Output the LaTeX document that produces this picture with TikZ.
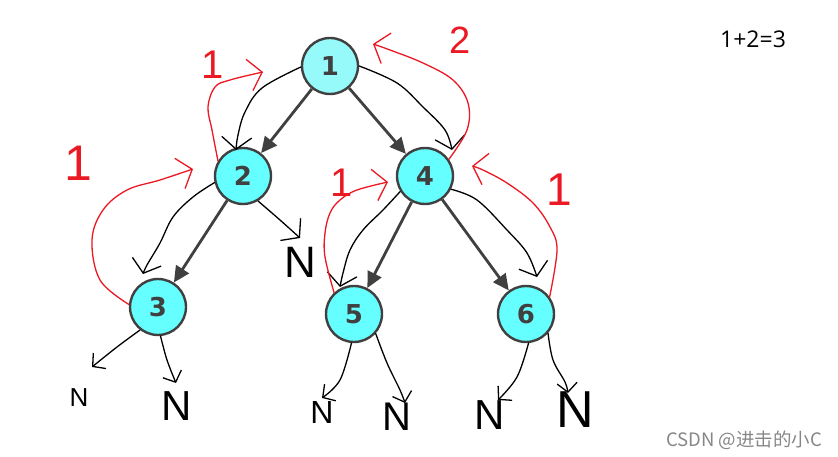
\documentclass[tikz,border=0pt]{standalone}
\usepackage{fontspec}
\setmainfont{Open Sans}
\newfontfamily\handfont{Liberation Sans}
\newfontfamily\keyfont{DejaVu Sans}
\newfontfamily\cjkfont{Noto Sans CJK SC}
\usetikzlibrary{arrows.meta}
\definecolor{nodefill}{RGB}{102,255,255}
\definecolor{rootfill}{RGB}{150,250,250}
\definecolor{edgegray}{RGB}{64,64,64}
\definecolor{penred}{RGB}{235,25,35}
\definecolor{markgray}{RGB}{135,135,135}

\tikzset{
  treenode/.style={circle, draw=edgegray, line width=2.4pt, fill=nodefill,
    minimum size=56pt, inner sep=0pt, text=edgegray,
    font=\keyfont\fontsize{26}{26}\selectfont\bfseries},
  treeedge/.style={draw=edgegray, line width=2.8pt,
    -{Triangle[length=16pt,width=15pt]}},
  trace/.style={black, line width=1.3pt, line cap=round, line join=round,
    -{Straight Barb[length=12pt,width=30pt]}},
  leaftrace/.style={trace, -{Straight Barb[length=9pt,width=20pt]}},
  backtrace/.style={penred, line width=1.3pt, line cap=round, line join=round,
    -{Straight Barb[length=13pt,width=32pt]}},
  handtext/.style={inner sep=0pt, font=\handfont\fontsize{#1}{#1}\selectfont},
  redlabel/.style={handtext=#1, text=penred},
}

\begin{document}
\begin{tikzpicture}[x=1pt, y=-1pt]
  \fill[white] (0,0) rectangle (838,457);
  \useasboundingbox (0,0) rectangle (838,457);

  % tree
  \node[treenode, fill=rootfill] (n1) at (330,66) {1};
  \node[treenode] (n2) at (243,176) {2};
  \node[treenode] (n4) at (425,176) {4};
  \node[treenode] (n3) at (158,307) {3};
  \node[treenode] (n5) at (354,314) {5};
  \node[treenode] (n6) at (526,314) {6};

  \draw[treeedge] (n1) -- (n2);
  \draw[treeedge] (n1) -- (n4);
  \draw[treeedge] (n2) -- (n3);
  \draw[treeedge] (n4) -- (n5);
  \draw[treeedge] (n4) -- (n6);

  % empty children
  \node[handtext=44] (null2) at (300,262) {N};
  \node[handtext=26] (null3l) at (79,398) {N};
  \node[handtext=42] (null3r) at (177,406) {N};
  \node[handtext=32] (null5l) at (322,412) {N};
  \node[handtext=40] (null5r) at (397,417) {N};
  \node[handtext=42] (null6l) at (490,415) {N};
  \node[handtext=52] (null6r) at (575,410) {N};

  % going down
  \draw[trace] plot[smooth, tension=0.6] coordinates
    {(n1.182) (262,88) (245,112) (238,135) (236,150)};
  \draw[trace] plot[smooth, tension=0.6] coordinates
    {(n1.0) (397,83) (423,107) (445,130) (452,150)};
  \draw[trace] plot[smooth, tension=0.6] coordinates
    {(n2.193) (193,197) (173,217) (160,243) (147,265) (143,274)};
  \draw[trace] plot[smooth, tension=0.6] coordinates
    {(n2.301) (280,220) (300,238)};
  \draw[trace] plot[smooth, tension=0.6] coordinates
    {(n4.212) (383,210) (363,230) (350,250) (343,273) (340,287)};
  \draw[trace] plot[smooth, tension=0.6] coordinates
    {(n4.333) (477,200) (507,230) (527,253) (537,277)};
  \draw[leaftrace] plot[smooth, tension=0.6] coordinates
    {(n3.232) (117,347) (92,367)};
  \draw[leaftrace] plot[smooth, tension=0.6] coordinates
    {(n3.275) (167,360) (176,383)};
  \draw[leaftrace] plot[smooth, tension=0.6] coordinates
    {(n5.265) (340,380) (322,398)};
  \draw[leaftrace] plot[smooth, tension=0.6] coordinates
    {(n5.318) (387,363) (400,390) (405,403)};
  \draw[leaftrace] plot[smooth, tension=0.6] coordinates
    {(n6.275) (517,377) (498,400)};
  \draw[leaftrace] plot[smooth, tension=0.6] coordinates
    {(n6.319) (553,360) (565,382) (568,393)};

  % coming back up
  \draw[backtrace] plot[smooth, tension=0.6] coordinates
    {(n3.175) (100,280) (92,240) (103,210) (127,190) (160,180) (193,169)};
  \draw[backtrace] plot[smooth, tension=0.6] coordinates
    {(n2.149) (212,130) (208,107) (215,87) (230,80) (263,72)};
  \draw[backtrace] plot[smooth, tension=0.6] coordinates
    {(n5.133) (325,257) (325,233) (330,213) (340,200) (357,190) (388,182)};
  \draw[backtrace] plot[smooth, tension=0.6] coordinates
    {(n6.36) (557,250) (550,227) (533,203) (507,183) (483,170) (472,166)};
  \draw[backtrace] plot[smooth, tension=0.6] coordinates
    {(n4.35) (467,130) (468,103) (453,80) (423,63) (390,50) (373,44)};

  \node[redlabel=40] (h2) at (213,65) {1};
  \node[redlabel=38] (h1) at (460,40) {2};
  \node[redlabel=50] (h3) at (78,163) {1};
  \node[redlabel=40] (h5) at (342,183) {1};
  \node[redlabel=46] (h6) at (559,190) {1};

  \node[font=\fontsize{23}{23}\selectfont] (sum) at (753,39) {1+2=3};
  \node[font=\cjkfont\fontsize{18.5}{18.5}\selectfont, text=markgray] (mark)
    at (744,440) {CSDN @进击的小C};
\end{tikzpicture}
\end{document}
